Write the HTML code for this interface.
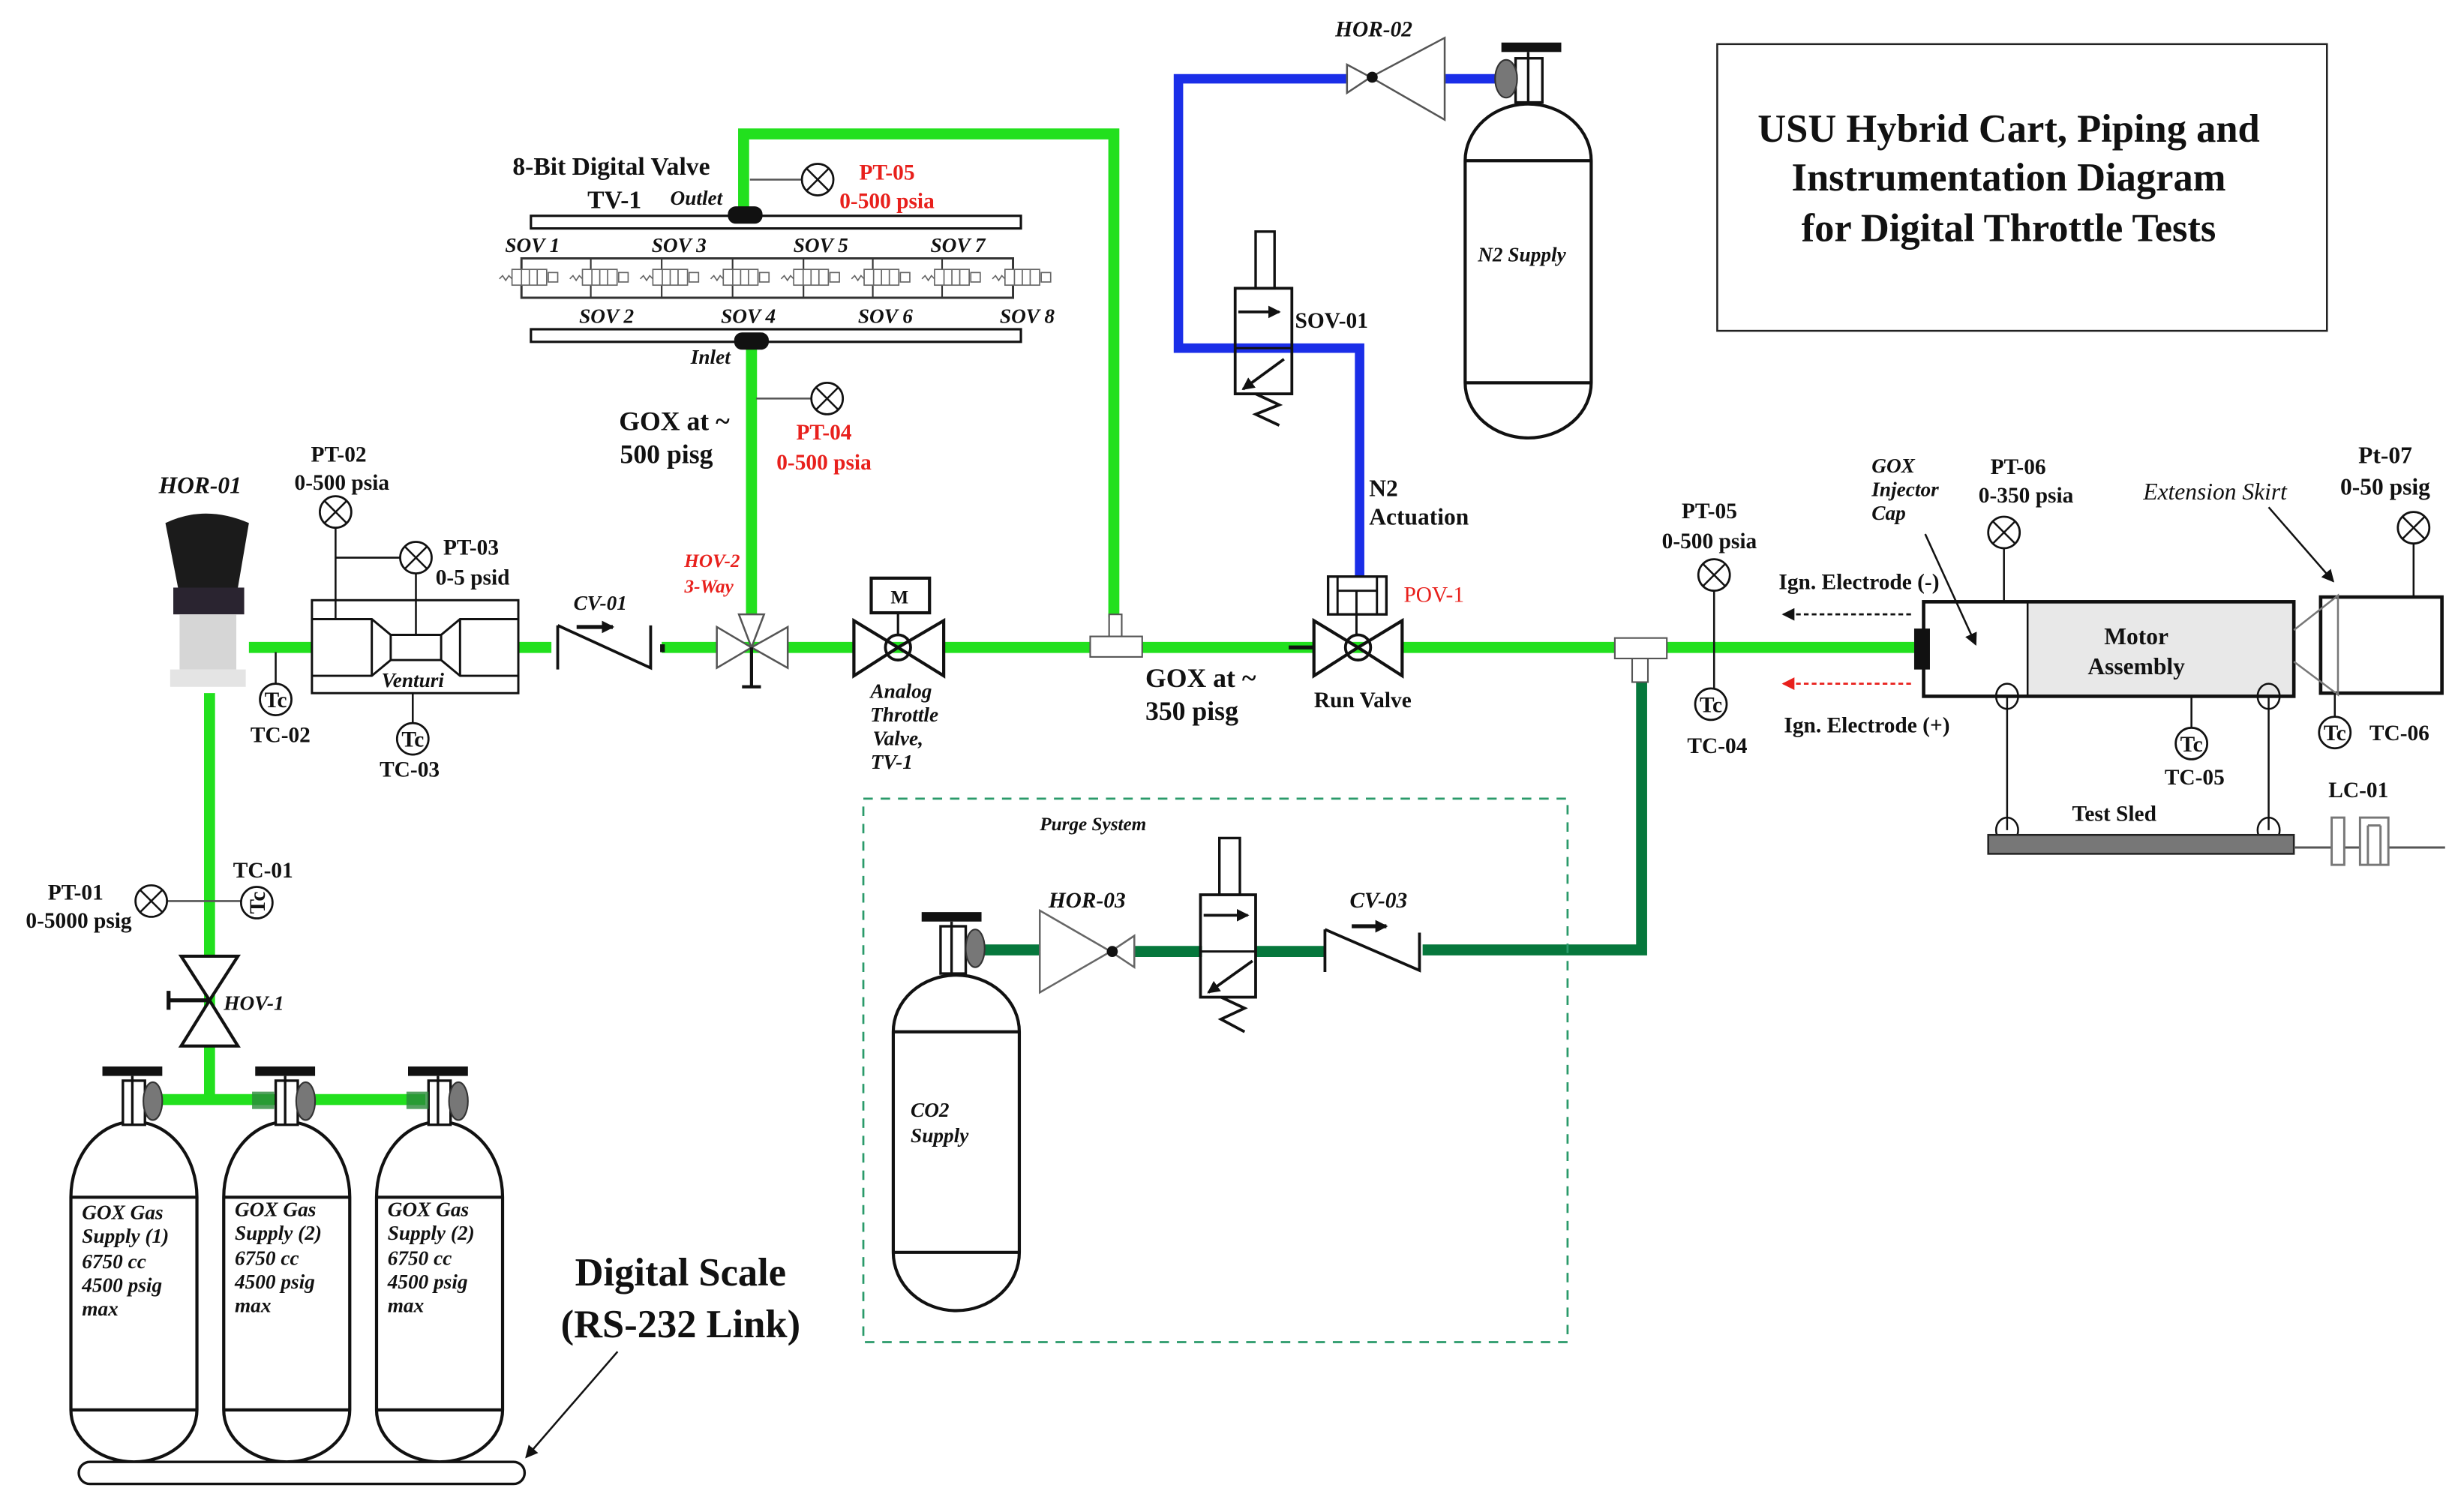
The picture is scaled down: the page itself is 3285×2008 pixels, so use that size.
<!DOCTYPE html>
<html><head><meta charset="utf-8"><style>
html,body{margin:0;padding:0;background:#fff}
svg{display:block}
text{font-family:"Liberation Serif",serif;font-weight:bold;fill:#111}
.i{font-style:italic}
.r{fill:#e8201c}
</style></head><body>
<svg width="3285" height="2008" viewBox="0 0 1564 956" xmlns="http://www.w3.org/2000/svg">
<defs>
<marker id="ah" markerWidth="8" markerHeight="8" refX="7" refY="4" orient="auto" markerUnits="userSpaceOnUse"><path d="M0,0 L8,4 L0,8 z" fill="#111"/></marker>
<marker id="ahr" markerWidth="8" markerHeight="8" refX="7" refY="4" orient="auto" markerUnits="userSpaceOnUse"><path d="M0,0 L8,4 L0,8 z" fill="#e8201c"/></marker>
<g id="tc"><circle r="10" fill="#fff" stroke="#111" stroke-width="1.3"/><text x="0" y="5" font-size="14" text-anchor="middle">Tc</text></g>
<g id="pt"><circle r="10" fill="#fff" stroke="#111" stroke-width="1.3"/><path d="M-7,-7 L7,7 M7,-7 L-7,7" stroke="#111" stroke-width="1.2"/></g>
</defs>

<!-- title box -->
<rect x="1090" y="28" width="387" height="182" fill="none" stroke="#222" stroke-width="1.2"/>
<text x="1275" y="90" font-size="25" text-anchor="middle">USU Hybrid Cart, Piping and</text>
<text x="1275" y="121" font-size="25" text-anchor="middle">Instrumentation Diagram</text>
<text x="1275" y="153" font-size="25" text-anchor="middle">for Digital Throttle Tests</text>

<!-- green pipes -->
<g stroke="#22e01e" stroke-width="7" fill="none">
<path d="M158,411 H1215"/>
<path d="M133,440 V698"/>
<path d="M95,698 H270"/>
<path d="M477,218 V392"/>
<path d="M472,137 V85 H707 V392"/>
</g>
<!-- blue -->
<g stroke="#1a2ee8" stroke-width="6" fill="none">
<path d="M855,50 H748 V221 H863 V366"/>
<path d="M917,50 H958"/>
</g>
<!-- dark green -->
<g stroke="#06773c" stroke-width="7" fill="none">
<path d="M1042,420 V603 H903"/>
<path d="M625,603 H660"/>
<path d="M718,604 H763"/>
<path d="M797,604 H841"/>
</g>

<!-- purge box -->
<rect x="548" y="507" width="447" height="345" fill="none" stroke="#2a9a6a" stroke-width="1.3" stroke-dasharray="6,5"/>
<text x="660" y="527" font-size="12" class="i">Purge System</text>

<!-- GOX cylinders -->
<g stroke="#111" stroke-width="2" fill="#fff">
<g id="cyl">
<path d="M45,760 V895 A40,33 0 0 0 125,895 V760 A40,48 0 0 0 45,760 Z"/>
<path d="M45,760 H125 M45,895 H125" fill="none"/>
</g>
<use href="#cyl" x="97"/>
<use href="#cyl" x="194"/>
</g>
<g id="valve1">
<rect x="65" y="677" width="38" height="6" fill="#111"/>
<rect x="78" y="686" width="14" height="28" fill="#fff" stroke="#111" stroke-width="1.6"/>
<line x1="84" y1="683" x2="84" y2="714" stroke="#111" stroke-width="1.6"/>
<ellipse cx="97" cy="699" rx="6" ry="12" fill="#777" stroke="#333" stroke-width="1"/>
</g>
<use href="#valve1" x="97"/>
<use href="#valve1" x="194"/>
<rect x="160" y="693" width="14" height="11" fill="#2a8a3a" opacity="0.8"/>
<rect x="258" y="693" width="14" height="11" fill="#2a8a3a" opacity="0.8"/>
<g font-size="13" class="i">
<text x="52" y="774">GOX Gas</text><text x="52" y="789">Supply (1)</text><text x="52" y="805">6750 cc</text><text x="52" y="820">4500 psig</text><text x="52" y="835">max</text>
<text x="149" y="772">GOX Gas</text><text x="149" y="787">Supply (2)</text><text x="149" y="803">6750 cc</text><text x="149" y="818">4500 psig</text><text x="149" y="833">max</text>
<text x="246" y="772">GOX Gas</text><text x="246" y="787">Supply (2)</text><text x="246" y="803">6750 cc</text><text x="246" y="818">4500 psig</text><text x="246" y="833">max</text>
</g>
<rect x="50" y="928" width="283" height="14" rx="7" fill="#fff" stroke="#111" stroke-width="1.6"/>
<text x="432" y="816" font-size="25" text-anchor="middle">Digital Scale</text>
<text x="432" y="849" font-size="25" text-anchor="middle">(RS-232 Link)</text>
<line x1="392" y1="858" x2="334" y2="925" stroke="#111" stroke-width="1.2" marker-end="url(#ah)"/>

<!-- HOV-1 -->
<path d="M115,607 H151 L133,635 Z M115,664 H151 L133,635 Z" fill="#fff" stroke="#111" stroke-width="2"/>
<path d="M107,635 H133 M107,629 V641" stroke="#111" stroke-width="2.5"/>
<text x="142" y="641" font-size="13" class="i">HOV-1</text>

<!-- PT-01 TC-01 -->
<line x1="106" y1="572" x2="153" y2="572" stroke="#555" stroke-width="1.2"/>
<use href="#pt" x="96" y="572"/>
<g transform="translate(163,573) rotate(-90)"><circle r="10" fill="#fff" stroke="#111" stroke-width="1.3"/><text x="0" y="5" font-size="14" text-anchor="middle">Tc</text></g>
<text x="48" y="571" font-size="14" text-anchor="middle">PT-01</text>
<text x="50" y="589" font-size="14" text-anchor="middle">0-5000 psig</text>
<text x="167" y="557" font-size="14" text-anchor="middle">TC-01</text>

<!-- HOR-01 regulator -->
<path d="M105,332 Q130,320 158,332 L151,373 H113 Z" fill="#1b1b1b"/>
<rect x="110" y="373" width="45" height="17" fill="#2a2430"/>
<rect x="114" y="390" width="36" height="35" fill="#d6d6d6"/>
<path d="M108,425 H156 V436 H108 Z" fill="#e4e4e4"/>
<text x="127" y="313" font-size="15" class="i" text-anchor="middle">HOR-01</text>

<!-- TC-02 -->
<line x1="175" y1="414" x2="175" y2="434" stroke="#111" stroke-width="1.2"/>
<use href="#tc" x="175" y="444"/>
<text x="178" y="471" font-size="14" text-anchor="middle">TC-02</text>

<!-- Venturi -->
<g stroke="#111" stroke-width="1.4" fill="#fff">
<rect x="198" y="381" width="131" height="59"/>
<path d="M198,393 H236 L248,403 H280 L292,393 H329 M198,429 H236 L248,419 H280 L292,429 H329" fill="none"/>
<path d="M236,393 V429 M292,393 V429 M248,403 V419 M280,403 V419" fill="none"/>
</g>
<line x1="213" y1="335" x2="213" y2="393" stroke="#111" stroke-width="1.2"/>
<line x1="213" y1="354" x2="254" y2="354" stroke="#111" stroke-width="1.2"/>
<line x1="264" y1="364" x2="264" y2="403" stroke="#111" stroke-width="1.2"/>
<use href="#pt" x="213" y="325"/>
<use href="#pt" x="264" y="354"/>
<text x="262" y="436" font-size="13" class="i" text-anchor="middle">Venturi</text>
<text x="215" y="293" font-size="14" text-anchor="middle">PT-02</text>
<text x="217" y="311" font-size="14" text-anchor="middle">0-500 psia</text>
<text x="299" y="352" font-size="14" text-anchor="middle">PT-03</text>
<text x="300" y="371" font-size="14" text-anchor="middle">0-5 psid</text>
<line x1="262" y1="440" x2="262" y2="459" stroke="#111" stroke-width="1.2"/>
<use href="#tc" x="262" y="469"/>
<text x="260" y="493" font-size="14" text-anchor="middle">TC-03</text>

<!-- CV-01 -->
<rect x="350" y="402" width="70" height="22" fill="#fff"/>
<path d="M354,397 V425 M354,397 L413,424 V397" fill="none" stroke="#111" stroke-width="1.8"/>
<rect x="419" y="409" width="3" height="5" fill="#111"/>
<line x1="366" y1="398" x2="389" y2="398" stroke="#111" stroke-width="2.5" marker-end="url(#ah)"/>
<text x="381" y="387" font-size="13" class="i" text-anchor="middle">CV-01</text>

<!-- HOV-2 -->
<path d="M455,398 L477,411 L455,424 Z M500,398 L477,411 L500,424 Z M469,390 H485 L477,411 Z" fill="#fff" stroke="#555" stroke-width="1.2"/>
<path d="M477,411 V436 M471,436 H483" stroke="#111" stroke-width="2"/>
<text x="452" y="360" font-size="12" class="i r" text-anchor="middle">HOV-2</text>
<text x="450" y="376" font-size="12" class="i r" text-anchor="middle">3-Way</text>

<!-- Analog throttle valve -->
<path d="M542,394 L570,411 L542,429 Z M599,394 L570,411 L599,429 Z" fill="#fff" stroke="#111" stroke-width="2"/>
<circle cx="570" cy="411" r="8" fill="none" stroke="#111" stroke-width="1.8"/>
<rect x="553" y="367" width="37" height="22" fill="#fff" stroke="#111" stroke-width="2"/>
<line x1="570" y1="389" x2="570" y2="403" stroke="#111" stroke-width="1.5"/>
<text x="571" y="383" font-size="12" text-anchor="middle">M</text>
<g font-size="13" class="i" text-anchor="middle">
<text x="572" y="443">Analog</text><text x="574" y="458">Throttle</text><text x="570" y="473">Valve,</text><text x="566" y="488">TV-1</text></g>

<!-- tee 1 -->
<rect x="704" y="390" width="8" height="14" fill="#fff" stroke="#555" stroke-width="1"/>
<rect x="692" y="404" width="33" height="13" fill="#fff" stroke="#555" stroke-width="1"/>
<text x="727" y="436" font-size="17">GOX at ~</text>
<text x="727" y="457" font-size="17">350 pisg</text>

<!-- Digital valve -->
<rect x="337" y="137" width="311" height="8" fill="#fff" stroke="#111" stroke-width="1.5"/>
<rect x="337" y="209" width="311" height="8" fill="#fff" stroke="#111" stroke-width="1.5"/>
<rect x="462" y="131" width="22" height="11" rx="5" fill="#111"/>
<rect x="466" y="211" width="22" height="11" rx="5" fill="#111"/>
<path d="M331,172 V164 H643 V172 M331,181 V189 H643 V181" fill="none" stroke="#333" stroke-width="1.4"/>
<g stroke="#333" stroke-width="1">
<path d="M375,164 V172 M420,164 V172 M465,164 V172 M510,164 V172 M554,164 V172 M598,164 V172 M375,181 V189 M420,181 V189 M465,181 V189 M510,181 V189 M554,181 V189 M598,181 V189"/>
</g>
<g id="sv" stroke="#666" stroke-width="0.8" fill="#fff">
<rect x="325" y="171" width="22" height="10"/>
<path d="M331,171 V181 M336,171 V181 M341,171 V181" />
<rect x="348" y="173" width="6" height="6"/>
<path d="M317,177 l2,-2 2,3 2,-3 2,2" fill="none"/>
</g>
<use href="#sv" x="44.7"/><use href="#sv" x="89.4"/><use href="#sv" x="134.1"/><use href="#sv" x="178.8"/><use href="#sv" x="223.5"/><use href="#sv" x="268.2"/><use href="#sv" x="312.9"/>
<g font-size="13" class="i" text-anchor="middle">
<text x="338" y="160">SOV 1</text><text x="431" y="160">SOV 3</text><text x="521" y="160">SOV 5</text><text x="608" y="160">SOV 7</text>
<text x="385" y="205">SOV 2</text><text x="475" y="205">SOV 4</text><text x="562" y="205">SOV 6</text><text x="652" y="205">SOV 8</text>
<text x="442" y="130">Outlet</text><text x="451" y="231">Inlet</text></g>
<text x="388" y="111" font-size="16" text-anchor="middle">8-Bit Digital Valve</text>
<text x="390" y="132" font-size="16" text-anchor="middle">TV-1</text>
<line x1="476" y1="114" x2="509" y2="114" stroke="#555" stroke-width="1.2"/>
<use href="#pt" x="519" y="114"/>
<text x="563" y="114" font-size="14" class="r" text-anchor="middle">PT-05</text>
<text x="563" y="132" font-size="14" class="r" text-anchor="middle">0-500 psia</text>
<line x1="480" y1="253" x2="515" y2="253" stroke="#555" stroke-width="1.2"/>
<use href="#pt" x="525" y="253"/>
<text x="523" y="279" font-size="14" class="r" text-anchor="middle">PT-04</text>
<text x="523" y="298" font-size="14" class="r" text-anchor="middle">0-500 psia</text>
<text x="428" y="273" font-size="17" text-anchor="middle">GOX at ~</text>
<text x="423" y="294" font-size="17" text-anchor="middle">500 pisg</text>

<!-- HOR-02 -->
<path d="M855,41 L870,49 L855,59 Z" fill="#fff" stroke="#555" stroke-width="1.2"/>
<path d="M870,49 L917,24 V76 Z" fill="#fff" stroke="#555" stroke-width="1.2"/>
<circle cx="871" cy="49" r="3.5" fill="#111"/>
<text x="872" y="23" font-size="14" class="i" text-anchor="middle">HOR-02</text>
<!-- N2 cylinder -->
<path d="M930,102 V243 A40,35 0 0 0 1010,243 V102 A40,36 0 0 0 930,102 Z" fill="#fff" stroke="#111" stroke-width="2"/>
<path d="M930,102 H1010 M930,243 H1010" stroke="#111" stroke-width="2"/>
<rect x="953" y="27" width="38" height="6" fill="#111"/>
<rect x="962" y="37" width="17" height="28" fill="#fff" stroke="#111" stroke-width="1.6"/>
<line x1="970" y1="33" x2="970" y2="65" stroke="#111" stroke-width="1.6"/>
<ellipse cx="956" cy="50" rx="7" ry="12" fill="#777" stroke="#333" stroke-width="1"/>
<text x="966" y="166" font-size="13" class="i" text-anchor="middle">N2 Supply</text>

<!-- SOV-01 -->
<rect x="797" y="147" width="12" height="36" fill="#fff" stroke="#111" stroke-width="1.6"/>
<rect x="784" y="183" width="36" height="67" fill="none" stroke="#111" stroke-width="1.8"/>
<line x1="784" y1="221" x2="820" y2="221" stroke="#111" stroke-width="1.4"/>
<line x1="786" y1="198" x2="812" y2="198" stroke="#111" stroke-width="1.8" marker-end="url(#ah)"/>
<line x1="815" y1="228" x2="789" y2="247" stroke="#111" stroke-width="1.8" marker-end="url(#ah)"/>
<path d="M797,250 L812,257 L797,263 L812,270" fill="none" stroke="#111" stroke-width="1.8"/>
<text x="822" y="208" font-size="14">SOV-01</text>
<text x="869" y="315" font-size="15">N2</text>
<text x="869" y="333" font-size="15">Actuation</text>

<!-- Run valve POV-1 -->
<rect x="843" y="366" width="37" height="24" fill="#fff" stroke="#111" stroke-width="1.6"/>
<path d="M849,366 V390 M874,366 V390 M849,375 H874 M861,375 V403" stroke="#111" stroke-width="1.4" fill="none"/>
<line x1="818" y1="411" x2="834" y2="411" stroke="#111" stroke-width="2.5"/>
<path d="M834,394 L862,411 L834,429 Z M890,394 L862,411 L890,429 Z" fill="#fff" stroke="#111" stroke-width="2"/>
<circle cx="862" cy="411" r="8" fill="none" stroke="#111" stroke-width="1.8"/>
<text x="891" y="382" font-size="14" style="fill:#e8201c;font-weight:normal">POV-1</text>
<text x="865" y="449" font-size="14" text-anchor="middle">Run Valve</text>

<!-- tee 2 -->
<rect x="1036" y="418" width="10" height="15" fill="#fff" stroke="#555" stroke-width="1"/>
<rect x="1025" y="405" width="33" height="13" fill="#fff" stroke="#555" stroke-width="1"/>
<line x1="1088" y1="375" x2="1088" y2="437" stroke="#111" stroke-width="1.2"/>
<use href="#pt" x="1088" y="365"/>
<use href="#tc" x="1086" y="447"/>
<text x="1085" y="329" font-size="14" text-anchor="middle">PT-05</text>
<text x="1085" y="348" font-size="14" text-anchor="middle">0-500 psia</text>
<text x="1090" y="478" font-size="14" text-anchor="middle">TC-04</text>

<!-- Motor -->
<rect x="1287" y="382" width="169" height="60" fill="#e8e8e8"/>
<rect x="1221" y="382" width="235" height="60" fill="none" stroke="#111" stroke-width="2.2"/>
<line x1="1287" y1="382" x2="1287" y2="442" stroke="#111" stroke-width="1.2"/>
<rect x="1215" y="399" width="10" height="26" fill="#111"/>
<text x="1356" y="409" font-size="15" text-anchor="middle">Motor</text>
<text x="1356" y="428" font-size="15" text-anchor="middle">Assembly</text>
<line x1="1272" y1="348" x2="1272" y2="382" stroke="#111" stroke-width="1.2"/>
<use href="#pt" x="1272" y="338"/>
<text x="1281" y="301" font-size="14" text-anchor="middle">PT-06</text>
<text x="1286" y="319" font-size="14" text-anchor="middle">0-350 psia</text>
<g font-size="13" class="i"><text x="1188" y="300">GOX</text><text x="1188" y="315">Injector</text><text x="1188" y="330">Cap</text></g>
<line x1="1222" y1="339" x2="1254" y2="409" stroke="#111" stroke-width="1.2" marker-end="url(#ah)"/>
<line x1="1213" y1="390" x2="1132" y2="390" stroke="#111" stroke-width="1.3" stroke-dasharray="3,2" marker-end="url(#ah)"/>
<line x1="1213" y1="434" x2="1132" y2="434" stroke="#e8201c" stroke-width="1.3" stroke-dasharray="3,2" marker-end="url(#ahr)"/>
<text x="1180" y="374" font-size="14" text-anchor="middle">Ign. Electrode (-)</text>
<text x="1185" y="465" font-size="14" text-anchor="middle">Ign. Electrode (+)</text>
<!-- sled -->
<g stroke="#111" stroke-width="1.2" fill="none">
<line x1="1274" y1="442" x2="1274" y2="527"/><line x1="1440" y1="442" x2="1440" y2="527"/>
<ellipse cx="1274" cy="442" rx="7" ry="8"/><ellipse cx="1440" cy="442" rx="7" ry="8"/>
<ellipse cx="1274" cy="527" rx="7" ry="8"/><ellipse cx="1440" cy="527" rx="7" ry="8"/>
</g>
<rect x="1262" y="530" width="194" height="12" fill="#777" stroke="#222" stroke-width="1.2"/>
<text x="1342" y="521" font-size="14" text-anchor="middle">Test Sled</text>
<line x1="1391" y1="442" x2="1391" y2="462" stroke="#111" stroke-width="1.2"/>
<use href="#tc" x="1391" y="472"/>
<text x="1393" y="498" font-size="14" text-anchor="middle">TC-05</text>
<!-- extension skirt -->
<rect x="1473" y="379" width="77" height="61" fill="none" stroke="#111" stroke-width="2.2"/>
<path d="M1456,400 L1484,378 V441 L1456,420" fill="none" stroke="#777" stroke-width="1.2"/>
<text x="1406" y="317" font-size="15" class="i" text-anchor="middle" style="font-weight:normal">Extension Skirt</text>
<line x1="1440" y1="322" x2="1481" y2="369" stroke="#111" stroke-width="1.2" marker-end="url(#ah)"/>
<line x1="1532" y1="345" x2="1532" y2="379" stroke="#111" stroke-width="1.2"/>
<use href="#pt" x="1532" y="335"/>
<text x="1514" y="294" font-size="15" text-anchor="middle">Pt-07</text>
<text x="1514" y="314" font-size="15" text-anchor="middle">0-50 psig</text>
<line x1="1482" y1="440" x2="1482" y2="455" stroke="#111" stroke-width="1.2"/>
<use href="#tc" x="1482" y="465"/>
<text x="1523" y="470" font-size="14" text-anchor="middle">TC-06</text>
<!-- LC-01 -->
<g stroke="#777" stroke-width="1.4" fill="#fff">
<line x1="1456" y1="538" x2="1552" y2="538" stroke="#555"/>
<rect x="1480" y="519" width="8" height="30"/>
<rect x="1498" y="519" width="18" height="30"/>
<path d="M1503,524 V549 M1511,524 V549 M1503,524 H1511"/>
</g>
<text x="1497" y="506" font-size="14" text-anchor="middle">LC-01</text>

<!-- Purge system components -->
<path d="M567,655 V795 A40,37 0 0 0 647,795 V655 A40,36 0 0 0 567,655 Z" fill="#fff" stroke="#111" stroke-width="2"/>
<path d="M567,655 H647 M567,795 H647" stroke="#111" stroke-width="2"/>
<rect x="585" y="579" width="38" height="6" fill="#111"/>
<rect x="597" y="588" width="16" height="30" fill="#fff" stroke="#111" stroke-width="1.6"/>
<line x1="604" y1="585" x2="604" y2="618" stroke="#111" stroke-width="1.6"/>
<ellipse cx="619" cy="602" rx="6" ry="12" fill="#777" stroke="#333" stroke-width="1"/>
<text x="578" y="709" font-size="13" class="i">CO2</text>
<text x="578" y="725" font-size="13" class="i">Supply</text>
<path d="M660,578 L705,604 L660,630 Z" fill="#fff" stroke="#666" stroke-width="1.2"/>
<path d="M705,604 L720,594 V614 Z" fill="#fff" stroke="#666" stroke-width="1.2"/>
<circle cx="706" cy="604" r="3.5" fill="#111"/>
<text x="690" y="576" font-size="14" class="i" text-anchor="middle">HOR-03</text>
<rect x="774" y="532" width="13" height="36" fill="#fff" stroke="#111" stroke-width="1.6"/>
<rect x="762" y="568" width="35" height="65" fill="none" stroke="#111" stroke-width="1.8"/>
<line x1="762" y1="604" x2="797" y2="604" stroke="#111" stroke-width="1.4"/>
<line x1="764" y1="581" x2="792" y2="581" stroke="#111" stroke-width="1.8" marker-end="url(#ah)"/>
<line x1="795" y1="610" x2="767" y2="630" stroke="#111" stroke-width="1.8" marker-end="url(#ah)"/>
<path d="M775,633 L790,640 L775,647 L790,655" fill="none" stroke="#111" stroke-width="1.8"/>
<path d="M841,590 V617 M841,590 L901,616 V592" fill="none" stroke="#111" stroke-width="1.8"/>
<line x1="858" y1="588" x2="880" y2="588" stroke="#111" stroke-width="2.5" marker-end="url(#ah)"/>
<text x="875" y="576" font-size="14" class="i" text-anchor="middle">CV-03</text>
</svg>
</body></html>
